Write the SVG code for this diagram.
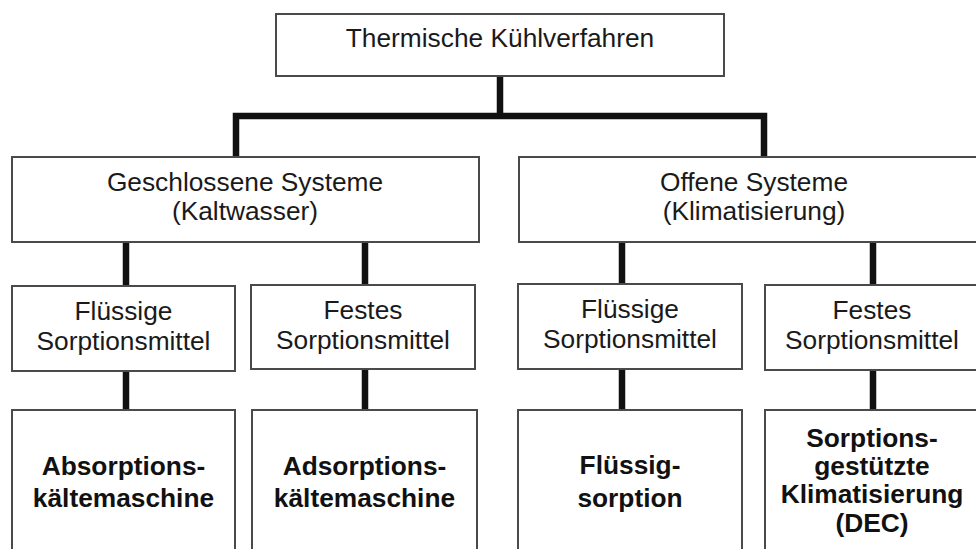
<svg xmlns="http://www.w3.org/2000/svg" width="976" height="549" viewBox="0 0 976 549">
<style>
.box{fill:#fff;stroke:#4a4a4a;stroke-width:2}
.t{font-family:"Liberation Sans",Arial,sans-serif;font-size:26.3px;fill:#1a1a1a;text-anchor:middle}
.b{font-family:"Liberation Sans",Arial,sans-serif;font-size:26.3px;font-weight:bold;fill:#111;text-anchor:middle}
.c{fill:none;stroke:#111;stroke-width:6.5;stroke-linecap:butt;stroke-linejoin:miter}
</style>
<rect width="976" height="549" fill="#fff"/>
<g id="connectors">
<path class="c" d="M500 76V116M236 157V116H764V157"/>
<path class="c" d="M126 242V286M365 242V285M622 242V284M873 242V285"/>
<path class="c" d="M126 371V410M365 369V410M622 369V410M873 370V410"/>
</g>
<g id="n_root"><rect class="box" x="276" y="14" width="448" height="62"/><text class="t" x="500" y="47">Thermische Kühlverfahren</text></g>
<g id="n_closed"><rect class="box" x="12" y="157" width="467" height="85"/><text class="t" x="245" y="191">Geschlossene Systeme</text><text class="t" x="245" y="220">(Kaltwasser)</text></g>
<g id="n_open"><rect class="box" x="519" y="157" width="470" height="85"/><text class="t" x="754" y="191">Offene Systeme</text><text class="t" x="754" y="220">(Klimatisierung)</text></g>
<g id="n_cl_liquid"><rect class="box" x="12" y="286" width="223" height="85"/><text class="t" x="123.5" y="320">Flüssige</text><text class="t" x="123.5" y="350">Sorptionsmittel</text></g>
<g id="n_cl_solid"><rect class="box" x="251" y="285" width="224" height="84"/><text class="t" x="363" y="319">Festes</text><text class="t" x="363" y="349">Sorptionsmittel</text></g>
<g id="n_op_liquid"><rect class="box" x="518" y="284" width="224" height="85"/><text class="t" x="630" y="318">Flüssige</text><text class="t" x="630" y="348">Sorptionsmittel</text></g>
<g id="n_op_solid"><rect class="box" x="765" y="285" width="215" height="85"/><text class="t" x="872" y="319">Festes</text><text class="t" x="872" y="349">Sorptionsmittel</text></g>
<g id="n_abs"><rect class="box" x="12" y="410" width="223" height="150"/><text class="b" x="123.5" y="475">Absorptions-</text><text class="b" x="123.5" y="507">kältemaschine</text></g>
<g id="n_ads"><rect class="box" x="252" y="410" width="225" height="150"/><text class="b" x="364.5" y="475">Adsorptions-</text><text class="b" x="364.5" y="507">kältemaschine</text></g>
<g id="n_fs"><rect class="box" x="518" y="410" width="224" height="150"/><text class="b" x="630" y="474">Flüssig-</text><text class="b" x="630" y="507">sorption</text></g>
<g id="n_dec"><rect class="box" x="765" y="410" width="215" height="150"/><text class="b" x="872" y="447">Sorptions-</text><text class="b" x="872" y="475">gestützte</text><text class="b" x="872" y="503">Klimatisierung</text><text class="b" x="872" y="532">(DEC)</text></g>
</svg>
